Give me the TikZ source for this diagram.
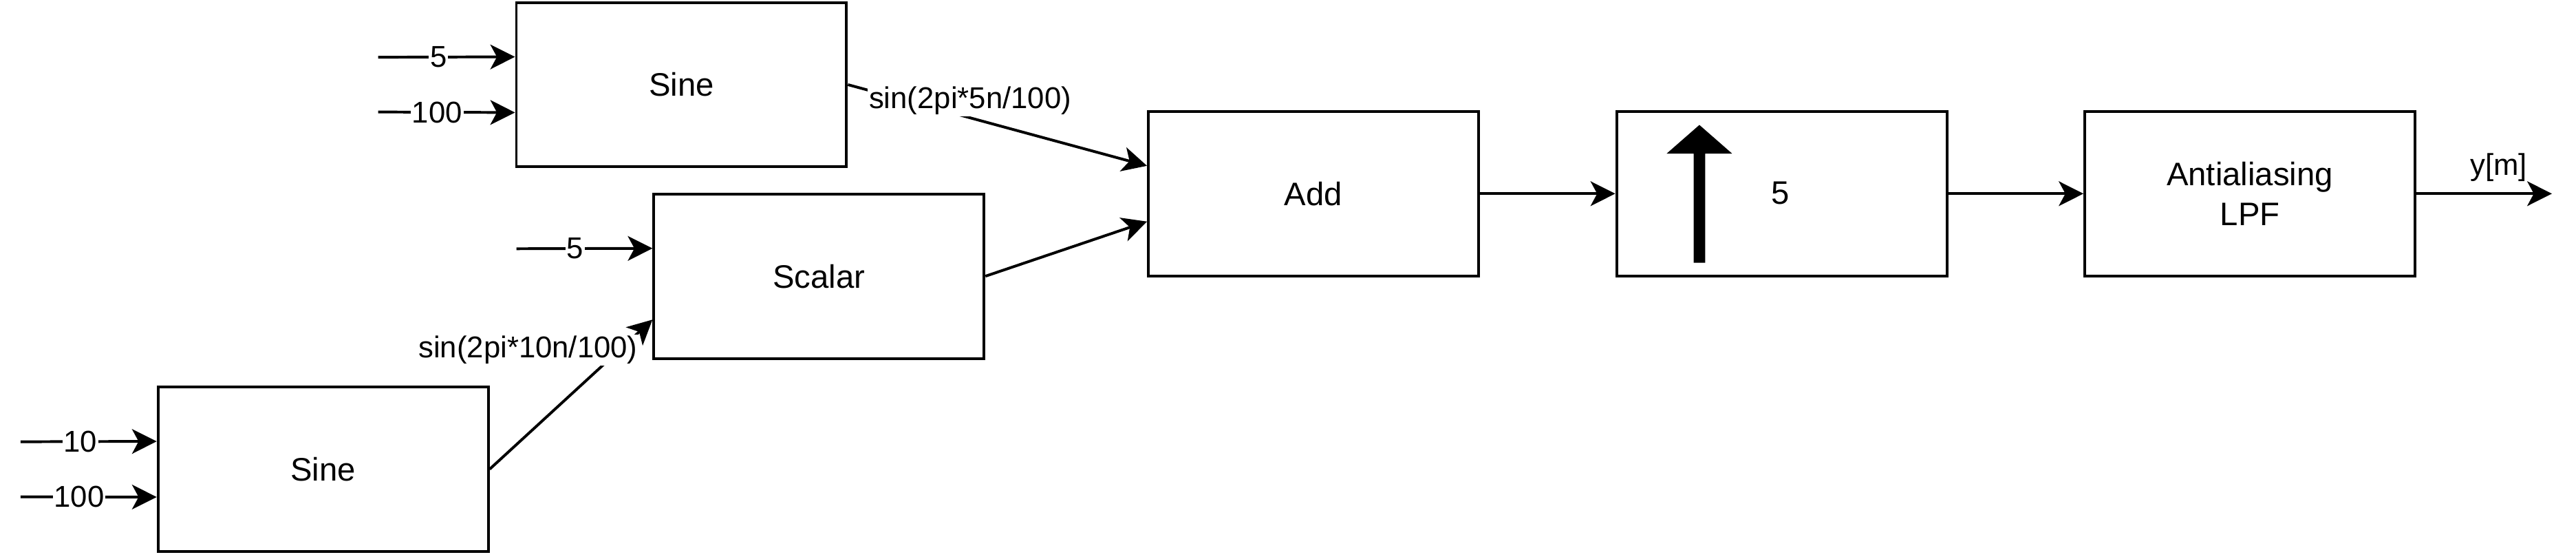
\documentclass[tikz,border=0pt]{standalone}
\usepackage{fontspec}
\setmainfont{Liberation Sans}
\usetikzlibrary{arrows.meta,calc}
\begin{document}
\begin{tikzpicture}[x=1pt,y=-1pt,
  blk/.style={draw=black, line width=1.66pt, minimum width=201pt, minimum height=100pt, inner sep=0pt, align=center, font=\fontsize{19.8}{24}\selectfont},
  wire/.style={line width=1.66pt, -{Stealth[length=15pt,width=15pt,inset=4pt]}},
  lbl/.style={fill=white, inner sep=0.8pt, font=\fontsize{18.3}{22}\selectfont},
  plainlbl/.style={inner sep=0.8pt, font=\fontsize{18.3}{22}\selectfont},
]
\useasboundingbox (0,0) rectangle (1568,338.4);

% blocks
\node[blk] (sineA)  at (414.8,51.5)  {Sine};
\node[blk] (scalar) at (498.5,168)   {Scalar};
\node[blk] (sineB)  at (196.7,285.4) {Sine};
\node[blk] (add)    at (799.5,117.8) {Add};
\node[blk] (up)     at (1084.5,117.8) {\hspace*{0pt}};
\node[blk] (lpf)    at (1369.5,117.8) {Antialiasing\\LPF};

% upsampler symbol
\fill (1030.9,159.8) -- (1030.9,93.4) -- (1014.5,93.4) -- (1034.4,76) -- (1054.3,93.4) -- (1037.9,93.4) -- (1037.9,159.8) -- cycle;
\node[font=\fontsize{19.8}{24}\selectfont] (upnum) at (1083.5,117.5) {5};

% free input ends
\coordinate (a1) at (230.2,34.8);
\coordinate (a2) at (230.2,68.1);
\coordinate (s1) at (314.4,151.3);
\coordinate (b1) at (12.5,268.7);
\coordinate (b2) at (12.5,302.2);
\coordinate (yout) at (1553.3,117.8);

\draw[wire] (a1) -- ($(sineA.north west)!1/3!(sineA.south west)$) node[lbl,pos=0.44] {5};
\draw[wire] (a2) -- ($(sineA.north west)!2/3!(sineA.south west)$) node[lbl,pos=0.43] {100};
\draw[wire] (s1) -- ($(scalar.north west)!1/3!(scalar.south west)$) node[lbl,pos=0.43] {5};
\draw[wire] (b1) -- ($(sineB.north west)!1/3!(sineB.south west)$) node[lbl,pos=0.44] {10};
\draw[wire] (b2) -- ($(sineB.north west)!2/3!(sineB.south west)$) node[lbl,pos=0.43] {100};

% signal connections
\draw[wire] (sineA.east) -- ($(add.north west)!1/3!(add.south west)$);
\node[lbl] (labA) at (590.5,61.4) {sin(2pi*5n/100)};
\draw[wire] (sineB.east) -- ($(scalar.north west)!0.76!(scalar.south west)$);
\node[lbl] (labB) at (321.4,213) {sin(2pi*10n/100)};
\draw[wire] (scalar.east) -- ($(add.north west)!2/3!(add.south west)$);
\draw[wire] (add) -- (up);
\draw[wire] (up) -- (lpf);
\draw[wire] (lpf.east) -- (yout);
\node[plainlbl] (labY) at (1521,102) {y[m]};
\end{tikzpicture}
\end{document}
